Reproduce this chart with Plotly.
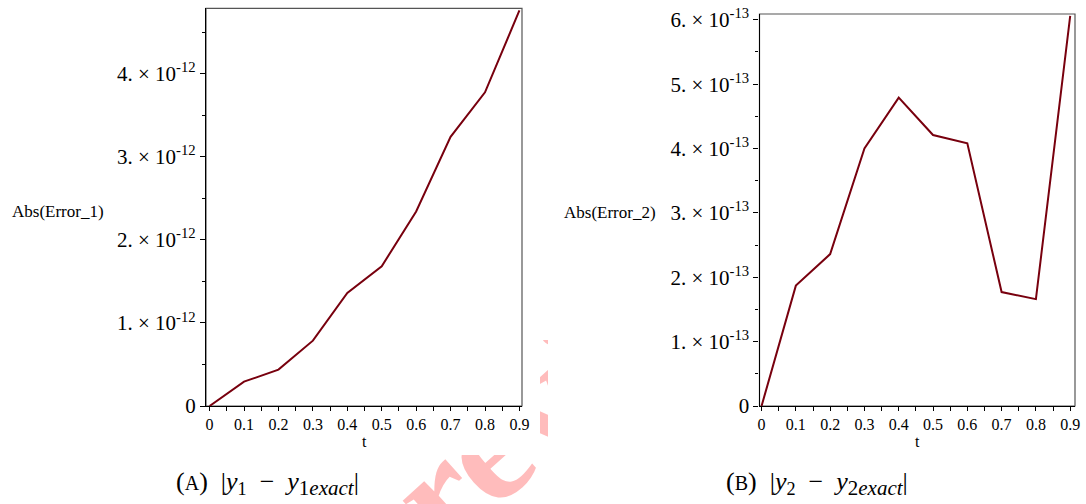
import base64
import math
import plotly.graph_objects as go

# Time grid and absolute errors of the two solution components
t = [0.0, 0.1, 0.2, 0.3, 0.4, 0.5, 0.6, 0.7, 0.8, 0.9]
err1 = [0.0, 0.293e-12, 0.438e-12, 0.787e-12, 1.361e-12, 1.683e-12,
        2.343e-12, 3.242e-12, 3.778e-12, 4.765e-12]
err2 = [0.0, 1.87e-13, 2.36e-13, 4.00e-13, 4.79e-13, 4.21e-13,
        4.08e-13, 1.77e-13, 1.66e-13, 6.06e-13]

t_ticks = [0.0, 0.1, 0.2, 0.3, 0.4, 0.5, 0.6, 0.7, 0.8, 0.9]
t_labels = ["0", "0.1", "0.2", "0.3", "0.4", "0.5", "0.6", "0.7", "0.8", "0.9"]
y1_ticks = [0.0, 1e-12, 2e-12, 3e-12, 4e-12]
y1_labels = ["0"] + [f"{k}. \u00d7 10<sup>-12</sup>" for k in range(1, 5)]
y2_ticks = [0.0, 1e-13, 2e-13, 3e-13, 4e-13, 5e-13, 6e-13]
y2_labels = ["0"] + [f"{k}. \u00d7 10<sup>-13</sup>" for k in range(1, 7)]

W, H = 1086, 504
LINE = "rgb(120,0,14)"
SERIF = "Liberation Serif"


def px(x):
    return x / W


def py(y):
    return 1 - y / H


def xaxis_style(domain, anchor, rng):
    return dict(
        domain=domain, anchor=anchor, range=rng, automargin=False,
        tickmode="array", tickvals=t_ticks, ticktext=t_labels,
        ticks="outside", ticklen=4, tickcolor="black", tickwidth=1,
        minor=dict(tick0=0, dtick=0.05, ticks="outside", ticklen=4,
                   tickcolor="black", tickwidth=1),
        showline=True, linecolor="black", linewidth=1.2,
        showgrid=False, zeroline=False,
        tickfont=dict(family=SERIF, size=16, color="black"),
    )


def yaxis_style(domain, anchor, rng, vals, labels, minor_step):
    return dict(
        domain=domain, anchor=anchor, range=rng, automargin=False,
        tickmode="array", tickvals=vals, ticktext=labels,
        ticks="outside", ticklen=5, tickcolor="black", tickwidth=1,
        minor=dict(tick0=0, dtick=minor_step, ticks="outside", ticklen=3,
                   tickcolor="black", tickwidth=1),
        showline=True, linecolor="black", linewidth=1.2,
        showgrid=False, zeroline=False,
        tickfont=dict(family=SERIF, size=21, color="black"),
    )


fig = go.Figure()
fig.add_trace(go.Scatter(x=t, y=err1, xaxis="x", yaxis="y", mode="lines",
                         line=dict(color=LINE, width=2), showlegend=False))
fig.add_trace(go.Scatter(x=t, y=err2, xaxis="x2", yaxis="y2", mode="lines",
                         line=dict(color=LINE, width=2), showlegend=False))

fig.update_layout(
    width=W, height=H,
    margin=dict(l=0, r=0, t=0, b=0, autoexpand=False),
    paper_bgcolor="white", plot_bgcolor="rgba(0,0,0,0)",
    xaxis=xaxis_style([px(206), px(522)], "y", [-0.0105, 0.9075]),
    yaxis=yaxis_style([py(406), py(8.3)], "x", [0, 4.79e-12],
                      y1_ticks, y1_labels, 0.5e-12),
    xaxis2=xaxis_style([px(759.5), px(1075)], "y2", [-0.006, 0.914]),
    yaxis2=yaxis_style([py(406), py(14)], "x2", [0, 6.09e-13],
                       y2_ticks, y2_labels, 0.5e-13),
)

# Grey frame around each panel
for xr, yr in (("x domain", "y domain"), ("x2 domain", "y2 domain")):
    fig.add_shape(type="rect", xref=xr, yref=yr, x0=0, x1=1, y0=0, y1=1,
                  line=dict(color="#555555", width=1.2), layer="below")

notes = [
    dict(text="Abs(Error_1)", x=px(10), y=py(211), xanchor="left", size=17),
    dict(text="Abs(Error_2)", x=px(562), y=py(212), xanchor="left", size=17),
    dict(text="t", x=px(364), y=py(441), xanchor="center", size=16),
    dict(text="t", x=px(917), y=py(441), xanchor="center", size=16),
]
for n in notes:
    size = n.pop("size")
    fig.add_annotation(xref="paper", yref="paper", showarrow=False,
                       yanchor="middle",
                       font=dict(family=SERIF, size=size, color="black"), **n)

cap_font = dict(family=SERIF, size=26, color="black")
captions = [
    ("(<span style='font-size:20px'>A</span>)\u2002|<i>y</i><sub>1</sub>\u2002\u2212\u2002"
     "<i>y</i><sub><span style='font-size:21px'>1<i>exact</i></span></sub>|", 267),
    ("(<span style='font-size:20px'>B</span>)\u2002|<i>y</i><sub>2</sub>\u2002\u2212\u2002"
     "<i>y</i><sub><span style='font-size:21px'>2<i>exact</i></span></sub>|", 817),
]
for text, cx in captions:
    fig.add_annotation(text=text, xref="paper", yref="paper", x=px(cx), y=py(483),
                       xanchor="center", yanchor="middle", showarrow=False,
                       font=cap_font)

# Pink diagonal watermark, only visible in the gaps between the panels
ang = 42.0
fs = 150
cx, cy = 497.0, 462.0          # visual centre of the "e"
ux, uy = math.cos(math.radians(ang)), -math.sin(math.radians(ang))
vx, vy = -math.sin(math.radians(ang)), -math.cos(math.radians(ang))
bx, by = cx - 0.23 * fs * vx, cy - 0.23 * fs * vy
sx, sy = bx - 0.666 * fs * ux, by - 0.666 * fs * uy
svg = (
    f'<svg xmlns="http://www.w3.org/2000/svg" width="{W}" height="{H}" '
    f'viewBox="0 0 {W} {H}">'
    '<defs><clipPath id="c">'
    '<rect x="0" y="455" width="1086" height="49"/>'
    '<rect x="540" y="340" width="8" height="115"/>'
    '</clipPath></defs>'
    '<g clip-path="url(#c)">'
    f'<text x="{sx:.1f}" y="{sy:.1f}" transform="rotate({-ang} {sx:.1f} {sy:.1f})" '
    f'font-family="Liberation Serif" font-weight="bold" font-size="{fs}" '
    'fill="#ffbcbc">review</text>'
    '</g></svg>'
)
src = "data:image/svg+xml;base64," + base64.b64encode(svg.encode()).decode()
fig.add_layout_image(source=src, xref="paper", yref="paper", x=0, y=1,
                     sizex=1, sizey=1, sizing="stretch", layer="below",
                     xanchor="left", yanchor="top")

fig.write_html(
    "out.html",
    post_script="document.body.style.margin='0';"
                "document.body.style.overflow='hidden';",
)
